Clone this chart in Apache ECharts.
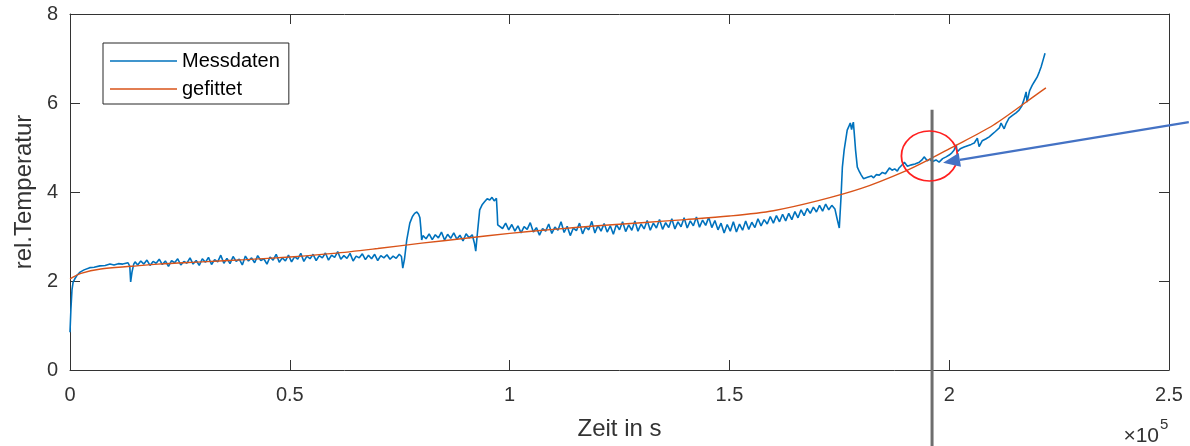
<!DOCTYPE html>
<html><head><meta charset="utf-8">
<script src="https://cdn.jsdelivr.net/npm/echarts@6/dist/echarts.min.js"></script>
<style>html,body{margin:0;padding:0;background:#fff}#c{width:1190px;height:446px}</style>
</head><body><div id="c"></div>
<script>
const xTickLabels = ['0', '0.5', '1', '1.5', '2', '2.5'];
const yTickLabels = ['0', '2', '4', '6', '8'];
const seriesNames = ['Messdaten', 'gefittet'];

const messdaten = [
[0,0.85],[200,1.35],[450,1.8],[700,1.97],[1100,2.05],[1600,2.13],[2300,2.2],[3200,2.25],[4500,2.3],[5500,2.31],[6800,2.34],[8000,2.35],[9100,2.38],[10000,2.36],[11000,2.39],[12000,2.38],[13200,2.41],[13600,2.33],[13800,1.98],[14100,2.2],[14500,2.38],[14800,2.43],
[15400,2.36],[16100,2.45],[16800,2.38],[17500,2.47],[18200,2.35],[18900,2.44],[19600,2.40],[20300,2.49],[21000,2.37],[21700,2.45],[22400,2.33],[23100,2.46],[23800,2.41],[24500,2.50],[25200,2.36],[25900,2.44],[26600,2.40],[27300,2.52],[28000,2.38],[28700,2.46],[29400,2.35],[30100,2.50],[30800,2.42],[31500,2.53],[32200,2.37],[32900,2.48],[33600,2.43],[34300,2.58],[35000,2.40],[35700,2.51],[36400,2.39],[37100,2.55],[37800,2.44],[38500,2.49],[39200,2.36],[39900,2.56],[40600,2.45],[41300,2.52],[42000,2.41],[42700,2.57],[43400,2.46],[44100,2.50],[44800,2.38],[45500,2.54],[46200,2.47],[46900,2.60],[47600,2.42],[48300,2.52],[49000,2.45],[49700,2.58],[50400,2.43],[51100,2.55],[51800,2.49],[52500,2.62],[53200,2.44],[53900,2.56],[54600,2.50],[55300,2.60],[56000,2.46],[56700,2.57],[57400,2.52],[58100,2.63],[58800,2.47],[59500,2.58],[60200,2.53],[60900,2.66],[61600,2.49],[62300,2.57],[63000,2.51],[63700,2.62],[64400,2.45],[65100,2.56],[65800,2.52],[66500,2.61],[67200,2.48],[67900,2.58],[68600,2.50],[69300,2.60],[70000,2.46],[70700,2.57],[71400,2.52],[72100,2.59],[72800,2.49],[73500,2.56],[74200,2.51],[74900,2.60],[75400,2.55],[75700,2.29],[76100,2.50],[76600,2.92],[77300,3.30],[77900,3.45],[78400,3.52],[78900,3.55],[79300,3.50],[79600,3.42],[79800,3.20],[80000,2.92],
[80300,3.02],[81000,2.95],[81700,3.06],[82400,2.93],[83100,3.04],[83800,2.97],[84500,3.10],[85200,2.92],[85900,3.05],[86600,2.96],[87300,3.08],[88000,2.94],[88700,3.03],[89400,2.90],[90100,3.06],[90800,2.97],[91500,3.04],[92000,2.85],[92300,2.67],[92700,3.10],[93200,3.60],[93800,3.72],[94300,3.78],[94900,3.85],[95500,3.82],[96000,3.88],[96500,3.80],[97000,3.86],[97200,3.50],[97300,3.26],
[97700,3.25],[98400,3.18],[99100,3.30],[99800,3.15],[100500,3.27],[101200,3.12],[101900,3.24],[102600,3.08],[103300,3.22],[104000,3.16],[104700,3.31],[105400,3.10],[106100,3.20],[106800,3.03],[107500,3.18],[108200,3.12],[108900,3.28],[109600,3.07],[110300,3.21],[111000,3.14],[111700,3.33],[112400,3.09],[113100,3.23],[113800,3.02],[114500,3.19],[115200,3.13],[115900,3.30],[116600,3.06],[117300,3.22],[118000,3.15],[118700,3.34],[119400,3.08],[120100,3.25],[120800,3.12],[121500,3.29],[122200,3.10],[122900,3.24],[123600,3.05],[124300,3.27],[125000,3.15],[125700,3.33],[126400,3.11],[127100,3.26],[127800,3.14],[128500,3.35],[129200,3.12],[129900,3.28],[130600,3.17],[131300,3.36],[132000,3.14],[132700,3.30],[133400,3.19],[134100,3.38],[134800,3.16],[135500,3.31],[136200,3.20],[136900,3.40],[137600,3.17],[138300,3.33],[139000,3.22],[139700,3.42],[140400,3.19],[141100,3.35],[141800,3.24],[142500,3.44],[143200,3.21],[143900,3.37],[144600,3.25],[145300,3.43],[146000,3.20],[146700,3.36],[147400,3.15],[148100,3.30],[148800,3.08],[149500,3.27],[150200,3.12],[150900,3.33],[151600,3.10],[152300,3.28],[153000,3.14],[153700,3.35],[154400,3.16],[155100,3.32],[155800,3.20],[156500,3.40],[157200,3.24],[157900,3.38],[158600,3.28],[159300,3.45],[160000,3.30],[160700,3.47],[161400,3.33],[162100,3.50],[162800,3.35],[163500,3.52],[164200,3.38],[164900,3.56],[165600,3.42],[166300,3.60],[167000,3.47],[167700,3.63],[168400,3.52],[169100,3.66],[169800,3.55],[170500,3.70],[171200,3.57],[171900,3.73],[172600,3.60],[173300,3.70],[174000,3.62],[174500,3.40],[175000,3.19],
[175400,3.90],[175700,4.56],[176100,4.94],[176800,5.39],[177200,5.48],[177500,5.55],[177800,5.40],[178000,5.50],[178200,5.57],[178500,5.20],[178700,4.94],[179100,4.56],[179600,4.45],[180000,4.38],[180500,4.30],[180900,4.27],[181400,4.33],[181800,4.30],[182300,4.36],[182800,4.32],[183400,4.39],[184100,4.38],[184800,4.44],[185500,4.41],[186400,4.54],[187000,4.49],[187600,4.52],[188200,4.47],[188600,4.54],[189200,4.60],[189800,4.67],[190500,4.58],[191400,4.61],[192200,4.63],[193200,4.67],[193800,4.72],[194300,4.79],[195000,4.70],[195600,4.74],[196100,4.68],[197000,4.72],[197700,4.67],[198500,4.75],[199300,4.79],[200000,4.83],[200600,4.88],[201100,4.94],[201600,5.06],[201800,4.90],[202500,4.97],[203400,5.01],[204200,5.04],[205000,5.07],[205700,5.10],[206400,5.21],[206800,5.02],[207500,5.15],[208300,5.19],[209100,5.24],[209800,5.30],[210500,5.36],[211400,5.44],[211800,5.55],[212500,5.42],[213000,5.55],[213600,5.66],[214400,5.72],[215200,5.78],[215900,5.84],[216500,5.93],[217000,6.07],[217500,6.25],[217700,6.02],[218300,6.28],[218900,6.40],[219500,6.50],[220000,6.58],[220500,6.70],[220900,6.81],[221400,6.98],[221800,7.12]
];

const gefittet = [
[0,2.05],[2500,2.17],[7000,2.27],[14000,2.33],[20000,2.38],[30000,2.43],[40000,2.48],[50000,2.54],[60000,2.62],[70000,2.73],[80000,2.85],[90000,2.96],[100000,3.07],[110000,3.16],[120000,3.24],[130000,3.31],[140000,3.38],[150000,3.46],[160000,3.58],[170000,3.80],[180000,4.08],[190000,4.47],[196000,4.76],[200000,4.97],[210000,5.50],[220000,6.20],[222000,6.34]
];

// annotation anchors (data coordinates)
const markerTime = 196100;
const markerTop = 5.85;
const circleCenter = [195500, 4.81];
const arrowTip = [198600, 4.66];
const arrowTail = [254500, 5.57];

const FONT = 'Liberation Sans, Arial, Helvetica, sans-serif';
const AX = '#333333';
const chart = echarts.init(document.getElementById('c'), null, {renderer: 'canvas'});

const xBase = {
  type: 'value', min: 0, max: 250000, interval: 50000,
  splitLine: {show: false},
  axisLine: {show: true, onZero: false, lineStyle: {color: AX, width: 1}},
  axisTick: {show: true, inside: true, length: 10, lineStyle: {color: AX}}
};
const yBase = {
  type: 'value', min: 0, max: 8, interval: 2,
  splitLine: {show: false},
  axisLine: {show: true, onZero: false, lineStyle: {color: AX, width: 1}},
  axisTick: {show: true, inside: true, length: 10, lineStyle: {color: AX}}
};

chart.setOption({
  animation: false,
  backgroundColor: '#ffffff',
  textStyle: {fontFamily: FONT},
  grid: {left: 70, right: 21, top: 14, bottom: 76, containLabel: false, outerBoundsMode: 'none'},
  legend: {
    show: true,
    data: seriesNames,
    icon: 'rect',
    orient: 'vertical', left: 103, top: 43,
    itemWidth: 67, itemHeight: 1.6, itemGap: 6,
    padding: [7, 9, 4, 7],
    borderColor: '#262626', borderWidth: 1, backgroundColor: '#fff',
    textStyle: {fontFamily: FONT, fontSize: 20, lineHeight: 22, color: '#000'}
  },
  xAxis: [
    Object.assign({}, xBase, {
      position: 'bottom',
      name: 'Zeit in s', nameLocation: 'middle', nameGap: 47,
      nameTextStyle: {fontFamily: FONT, fontSize: 24, color: AX},
      axisLabel: {show: true, margin: 15, fontSize: 20, color: AX, fontFamily: FONT, showMinLabel: true, showMaxLabel: true,
        formatter: v => xTickLabels[Math.round(v / 50000)]}
    }),
    Object.assign({}, xBase, {position: 'top', axisLabel: {show: false}})
  ],
  yAxis: [
    Object.assign({}, yBase, {
      position: 'left',
      name: 'rel.Temperatur', nameLocation: 'middle', nameGap: 29, nameRotate: 90,
      nameTextStyle: {fontFamily: FONT, fontSize: 24, color: AX},
      axisLabel: {show: true, margin: 12, fontSize: 20, color: AX, fontFamily: FONT,
        formatter: v => yTickLabels[Math.round(v / 2)]}
    }),
    Object.assign({}, yBase, {position: 'right', axisLabel: {show: false}})
  ],
  series: [
    {name: seriesNames[0], type: 'line', data: messdaten, showSymbol: false, symbol: 'none',
     lineStyle: {color: '#0072BD', width: 1.6}, itemStyle: {color: '#0072BD'}, z: 2},
    {name: seriesNames[1], type: 'line', data: gefittet, showSymbol: false, symbol: 'none', smooth: 0.3,
     lineStyle: {color: '#D95319', width: 1.4}, itemStyle: {color: '#D95319'}, z: 3}
  ]
});

function drawAnnotations() {
  const toPx = p => chart.convertToPixel({xAxisIndex: 0, yAxisIndex: 0}, p);
  const H = chart.getHeight();
  const top = toPx([markerTime, markerTop]);
  const cc = toPx(circleCenter);
  const tip = toPx(arrowTip);
  const tail = toPx(arrowTail);
  const dx = tip[0] - tail[0], dy = tip[1] - tail[1];
  const len = Math.sqrt(dx * dx + dy * dy), ux = dx / len, uy = dy / len;
  const hl = 17, hw = 7;
  const bx = tip[0] - ux * hl, by = tip[1] - uy * hl;
  chart.setOption({
    graphic: [
      {type: 'line', z: 100, shape: {x1: top[0], y1: top[1], x2: top[0], y2: H},
       style: {stroke: '#6e6e6e', lineWidth: 3}},
      {type: 'circle', z: 101, x: cc[0], y: cc[1], scaleX: 28 / 25, scaleY: 1,
       shape: {cx: 0, cy: 0, r: 25}, style: {fill: 'none', stroke: '#ff1f1f', lineWidth: 1.6}},
      {type: 'line', z: 102, shape: {x1: tail[0], y1: tail[1], x2: bx, y2: by},
       style: {stroke: '#4472C4', lineWidth: 2.2}},
      {type: 'polygon', z: 102, shape: {points: [[tip[0], tip[1]], [bx - uy * hw, by + ux * hw], [bx + uy * hw, by - ux * hw]]},
       style: {fill: '#4472C4'}},
      {type: 'text', z: 100, x: 1159, y: 436, style: {text: '×10', fontFamily: FONT, fontSize: 21, fill: AX, align: 'right', verticalAlign: 'middle'}},
      {type: 'text', z: 100, x: 1160, y: 425, style: {text: '5', fontFamily: FONT, fontSize: 15, fill: AX, align: 'left', verticalAlign: 'middle'}}
    ]
  });
}
drawAnnotations();
</script></body></html>
